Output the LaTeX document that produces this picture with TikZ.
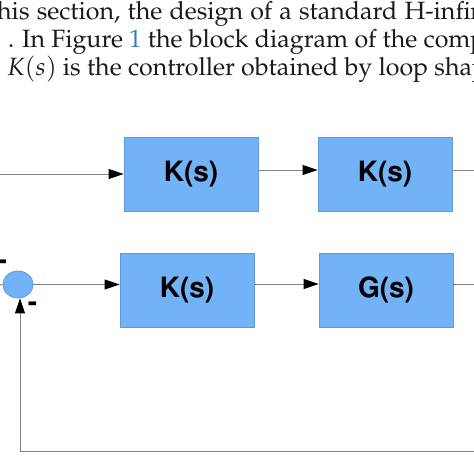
\documentclass[tikz,border=0pt]{standalone}
\usepackage[T1]{fontenc}
\usepackage{mathpazo}
\usetikzlibrary{arrows.meta,shapes.geometric}
\definecolor{boxfill}{RGB}{114,178,246}
\definecolor{boxline}{RGB}{98,152,214}
\definecolor{wire}{RGB}{130,130,130}
\definecolor{figblue}{RGB}{52,120,200}
\definecolor{txt}{RGB}{25,25,25}
\tikzset{
  block/.style={draw=boxline, fill=boxfill, line width=0.8pt, minimum width=134pt,
    minimum height=74pt, inner sep=0pt, text=black,
    font=\fontfamily{phv}\fontseries{b}\fontsize{28}{30}\selectfont},
  sumnode/.style={ellipse, draw=boxline, fill=boxfill, line width=0.8pt,
    minimum width=30pt, minimum height=27pt, inner sep=0pt},
  wirestyle/.style={draw=wire, line width=0.9pt},
  arr/.style={wirestyle, -{Triangle[length=15pt,width=10pt,color=black]}},
  para/.style={anchor=base west, inner sep=0pt, text=txt,
    font=\fontsize{25}{28}\selectfont},
  minus/.style={inner sep=0pt, text=black,
    font=\fontfamily{phv}\fontseries{b}\fontsize{28}{30}\selectfont}
}
\begin{document}
\begin{tikzpicture}[x=1pt,y=-1pt]
\useasboundingbox (0,0) rectangle (474,474);
\clip (0,0) rectangle (474,474);
\fill[white] (0,0) rectangle (474,474);
% text
\node[para] (l1) at (-3,19.5) {\makebox[488pt][s]{his section, the design of a standard H-infin}};
\node[para] (l2) at (8,47.5) {. In Figure \textcolor{figblue}{1} the block diagram of the comp};
\node[para] (l3) at (7,75.5) {$K(s)$ is the controller obtained by loop shap};
% blocks
\node[block] (K1) at (191,174) {K(s)};
\node[block] (K2) at (385,174) {K(s)};
\node[block] (Kb) at (187,290) {K(s)};
\node[block] (G) at (386,290) {G(s)};
\node[sumnode] (S) at (18,284.5) {};
\node[minus] (m1) at (2.5,265) {-};
\node[minus] (m2) at (32.5,307) {-};
% free ends
\coordinate (inT) at (0,174);
\coordinate (outT) at (474,170);
\coordinate (inB) at (0,285);
\coordinate (outB) at (474,284);
\coordinate (fb) at (474,451);
% wires
\draw[arr] (inT) -- (inT -| K1.west);
\draw[arr] ([yshift=4pt]K1.east) -- ([yshift=4pt]K2.west);
\draw[wirestyle] ([yshift=4pt]K2.east) -- (outT);
\draw[wirestyle] (inB) -- (S.west);
\draw[arr] (S.east) -- (S.east -| Kb.west);
\draw[arr] ([yshift=6pt]Kb.east) -- ([yshift=6pt]G.west);
\draw[wirestyle] ([yshift=6pt]G.east) -- (outB);
\draw[arr] (fb) -| ([xshift=2pt]S.south);
\end{tikzpicture}
\end{document}
